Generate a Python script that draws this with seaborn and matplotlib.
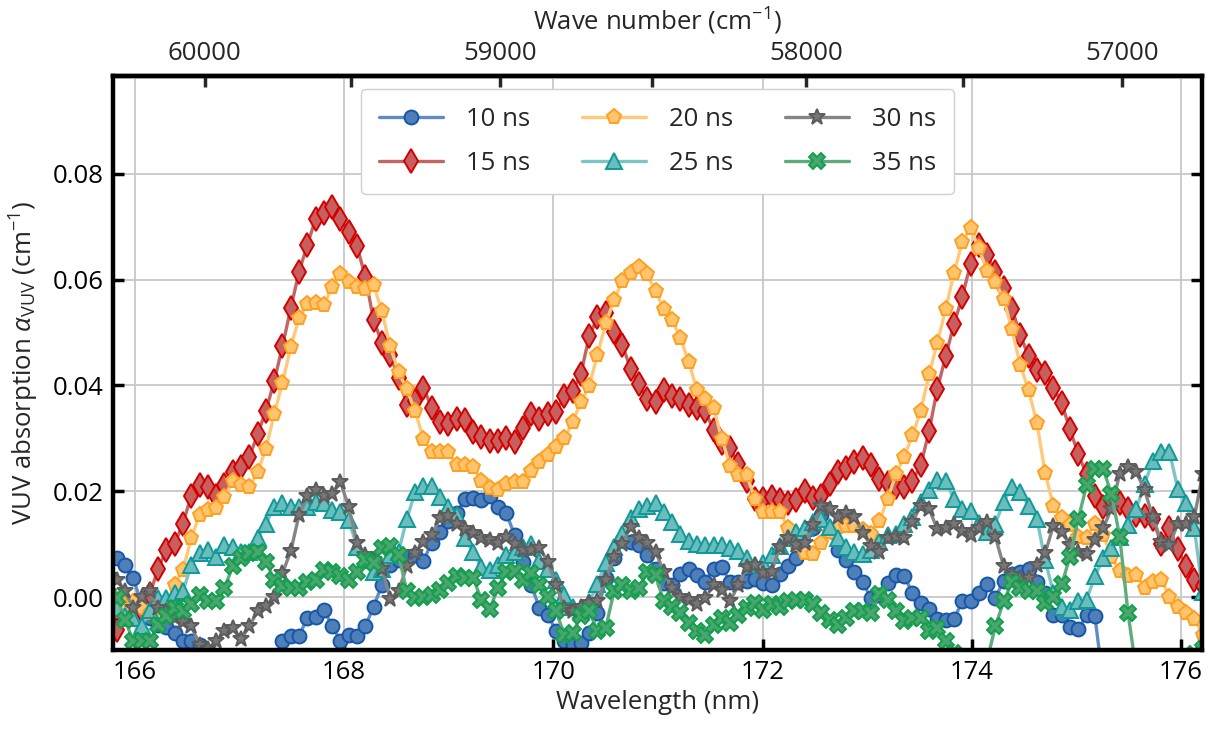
import numpy as np
import matplotlib
matplotlib.use("Agg")
import matplotlib.pyplot as plt
import seaborn as sns
from matplotlib.ticker import MultipleLocator, FuncFormatter, FixedLocator

sns.set_theme(style="white")
plt.rcParams["font.family"] = ["Open Sans", "DejaVu Sans"]
plt.rcParams["mathtext.fontset"] = "custom"
plt.rcParams["mathtext.rm"] = "Open Sans"
plt.rcParams["mathtext.it"] = "Open Sans:italic"
plt.rcParams["mathtext.bf"] = "Open Sans:bold"

# Monochromator sampling grid (nm)
wl_start = 165.746
wl_step = 0.07924
n_points = 133
wavelength = wl_start + wl_step * np.arange(n_points)

delays = ["10 ns", "15 ns", "20 ns", "25 ns", "30 ns", "35 ns"]

# VUV absorption, in units of 1e-3 cm^-1, one value per grid point
absorption_10ns = [
    8.0, 7.3, 6.0, 3.7, -1.5, -4.0, -5.2, -5.7, -6.8, -8.3,
    -8.3, -9.0, -10.5, -13.0, -13.0, -13.0, -13.0, -13.0, -13.0, -13.0,
    -13.0, -8.3, -7.4, -7.4, -3.9, -3.8, -2.4, -5.5, -8.3, -7.1,
    -7.4, -5.5, -1.8, 2.3, 6.1, 7.0, 7.6, 8.0, 6.8, 10.3,
    12.3, 14.3, 15.8, 18.5, 18.7, 18.3, 19.1, 17.0, 15.8, 11.8,
    6.7, 2.3, -2.1, -3.4, -6.4, -8.3, -9.1, -8.6, -6.8, -3.0,
    3.6, 7.3, 10.8, 10.5, 9.8, 7.9, 5.4, 2.6, 2.3, 4.3,
    5.4, 4.2, 2.9, 5.4, 5.6, 2.9, 2.8, 3.1, 3.5, 2.6,
    2.3, 4.3, 5.8, 7.3, 8.7, 13.0, 15.5, 12.5, 8.9, 7.0,
    4.8, 2.8, -0.2, 0.4, 2.6, 4.2, 3.9, 0.8, -1.1, -2.2,
    -4.2, -4.3, -4.2, -0.8, -0.8, 0.8, 2.4, -0.1, 3.1, 4.3,
    4.7, 5.4, 2.8, 0.8, -3.4, -3.3, -5.7, -6.1, -3.4, -3.6,
    -16.0,
]
absorption_15ns = [
    -4.0, -6.2, -3.0, -2.1, -2.7, 0.5, 5.4, 8.9, 10.1, 13.9,
    19.2, 21.2, 20.8, 19.2, 21.1, 23.6, 24.5, 26.4, 30.8, 35.2,
    40.8, 47.4, 54.6, 61.5, 66.6, 71.5, 72.7, 73.7, 71.4, 69.1,
    66.3, 60.5, 52.3, 48.1, 45.8, 41.4, 36.4, 37.1, 39.6, 35.8,
    33.1, 32.7, 33.7, 33.5, 31.2, 30.2, 29.5, 29.5, 30.0, 29.4,
    31.9, 34.7, 33.6, 34.6, 34.9, 38.1, 38.9, 42.2, 49.3, 52.9,
    53.7, 50.2, 47.7, 43.1, 40.2, 37.4, 36.9, 39.1, 38.0, 37.4,
    36.4, 35.8, 35.2, 31.6, 29.2, 28.1, 25.2, 22.0, 18.6, 18.6,
    18.9, 18.4, 17.7, 18.3, 20.0, 18.7, 19.2, 21.4, 23.6, 24.4,
    25.5, 26.2, 24.9, 22.3, 21.5, 20.8, 20.8, 22.0, 24.9, 31.4,
    39.4, 45.5, 51.6, 56.7, 63.0, 66.5, 64.6, 61.5, 58.5, 54.5,
    49.6, 45.5, 43.0, 42.4, 39.6, 36.6, 31.7, 27.0, 23.2, 19.2,
    17.0, 18.3, 17.7, 16.7, 15.6, 15.3, 14.7, 10.1, 13.0, 9.1,
    5.8, 3.3, 2.0,
]
absorption_20ns = [
    0.0, -0.5, -1.5, -1.0, -2.0, -3.0, -4.5, -2.5, 2.3, 5.1,
    11.1, 15.6, 16.4, 16.8, 18.9, 22.0, 21.1, 20.8, 23.6, 28.0,
    34.6, 40.4, 47.3, 52.7, 55.4, 55.6, 55.2, 58.7, 61.0, 59.6,
    58.7, 58.2, 59.0, 54.0, 47.4, 42.6, 39.3, 35.2, 29.9, 27.5,
    27.5, 27.4, 24.9, 24.9, 24.5, 22.0, 20.6, 20.3, 21.4, 21.7,
    21.8, 23.9, 25.6, 26.9, 28.3, 30.0, 33.1, 36.8, 39.9, 45.8,
    51.8, 56.1, 59.8, 61.3, 62.4, 61.0, 57.8, 54.4, 52.3, 49.0,
    44.5, 39.1, 37.5, 35.8, 29.9, 24.8, 23.0, 23.0, 18.6, 16.1,
    16.1, 16.1, 13.0, 10.1, 8.3, 8.1, 10.3, 12.3, 13.3, 13.5,
    13.5, 12.6, 12.0, 14.3, 18.6, 23.2, 26.5, 30.6, 35.2, 42.1,
    48.1, 54.4, 61.2, 67.1, 69.8, 65.9, 61.7, 59.6, 56.3, 50.6,
    43.9, 39.1, 33.0, 23.5, 17.2, 15.0, 13.6, 11.4, 11.2, 13.9,
    11.7, 7.6, 4.9, 3.9, 4.2, 1.7, 2.9, 3.3, 0.1, -1.8,
    -3.0, -4.1, -7.1,
]
absorption_25ns = [
    -2.0, -2.1, -3.5, -3.9, -5.5, -2.5, -0.2, -0.2, 0.8, 1.1,
    6.1, 8.3, 8.9, 7.6, 9.8, 9.5, 8.6, 8.6, 11.1, 13.9,
    17.0, 17.7, 17.0, 17.0, 17.0, 18.0, 17.7, 16.4, 16.1, 14.5,
    9.5, 7.0, 4.8, 5.4, 7.9, 8.5, 14.8, 19.8, 21.0, 21.0,
    18.9, 17.0, 15.5, 11.1, 8.5, 5.6, 5.1, 6.1, 7.9, 8.6,
    9.5, 10.0, 6.8, 5.4, 3.2, 0.4, -1.8, -2.5, -1.0, 2.5,
    6.5, 9.5, 12.0, 15.0, 16.7, 17.3, 17.7, 16.1, 14.2, 12.0,
    10.6, 10.1, 9.8, 9.8, 9.8, 9.3, 8.7, 7.3, 6.1, 6.4,
    7.9, 9.7, 11.1, 12.3, 13.1, 14.2, 14.8, 13.3, 11.1, 9.5,
    8.5, 8.1, 8.9, 10.5, 11.7, 12.0, 13.9, 15.1, 18.0, 20.2,
    22.2, 22.0, 18.5, 16.7, 16.3, 14.0, 12.3, 13.9, 18.0, 20.8,
    19.8, 17.3, 14.8, 7.0, 0.8, -1.8, -2.4, -0.8, -0.5, 3.9,
    7.3, 9.2, 11.4, 13.6, 16.7, 21.4, 25.8, 27.5, 27.5, 20.5,
    17.7, 13.0, 1.0,
]
absorption_30ns = [
    4.0, 3.3, 1.1, -2.1, 0.1, 1.1, -2.1, -2.7, -3.9, -4.8,
    -5.5, -9.0, -9.8, -8.3, -6.4, -5.8, -8.0, -5.5, -2.7, -1.7,
    0.1, 4.5, 8.7, 15.5, 19.2, 20.2, 19.2, 19.5, 21.7, 17.0,
    10.3, 7.9, 7.0, 5.4, -0.3, 1.2, 5.8, 8.3, 10.5, 11.7,
    15.0, 15.3, 13.9, 12.8, 12.2, 11.1, 10.8, 10.3, 11.4, 10.0,
    8.9, 8.9, 9.3, 6.7, 2.3, -2.1, -2.6, -1.8, -1.2, -0.8,
    3.3, 7.6, 10.1, 13.3, 11.1, 10.3, 8.6, 4.8, 1.7, 0.0,
    -0.6, -1.4, -0.2, 2.3, 1.4, -0.8, 2.3, 5.6, 6.1, 4.5,
    4.8, 9.5, 11.1, 9.8, 10.3, 13.6, 17.3, 16.7, 15.1, 15.8,
    15.1, 12.2, 9.7, 8.6, 11.2, 11.4, 11.1, 14.2, 17.3, 16.7,
    12.8, 13.0, 13.9, 12.5, 11.8, 13.0, 14.2, 11.4, 5.8, 4.2,
    3.6, 3.6, 6.1, 8.3, 13.5, 12.3, 9.8, 8.6, 8.1, 10.8,
    13.0, 16.7, 23.3, 24.5, 23.6, 20.2, 15.1, 10.5, 9.8, 13.9,
    13.9, 15.1, 23.3,
]
absorption_35ns = [
    0.5, -0.2, -4.3, -8.3, -8.3, -8.3, -5.2, -3.6, -2.1, -2.7,
    -1.4, 0.4, -0.8, -0.7, 1.7, 5.8, 7.3, 8.3, 8.5, 6.7,
    3.3, 2.0, 1.7, 1.8, 2.9, 3.3, 5.1, 4.8, 3.9, 3.3,
    4.8, 7.0, 6.4, 9.2, 9.6, 8.0, 1.1, -0.1, 0.1, 0.4,
    1.4, 2.6, 3.9, 3.6, 3.6, -0.5, -2.2, 1.7, 4.8, 4.9,
    3.3, 4.5, 2.3, 0.1, -2.7, -7.1, -6.8, -3.6, -2.7, -6.4,
    -5.8, 1.1, 2.3, 1.2, 1.8, 4.8, 4.2, -0.8, -1.8, -3.1,
    -4.9, -6.4, -7.1, -5.2, -3.9, -4.9, -3.3, -2.1, -1.1, -2.4,
    -1.4, -1.9, -0.8, -0.5, -0.5, -1.4, -3.0, -4.3, -5.2, -3.9,
    -2.6, -2.7, -3.0, 0.6, -0.5, -2.7, -4.6, -3.9, -3.9, -6.4,
    -5.8, -8.3, -10.5, -12.0, -14.0, -14.0, -12.0, -5.5, -0.8, 2.8,
    1.8, 1.2, 1.2, -1.1, 0.1, 2.4, 7.6, 14.8, 21.1, 24.2,
    24.2, 19.5, 11.4, -3.0, -14.0, -14.0, -14.0, -14.0, -14.0, -14.0,
    -14.0, -10.8, -9.8,
]
series = [absorption_10ns, absorption_15ns, absorption_20ns,
          absorption_25ns, absorption_30ns, absorption_35ns]

# line colour, marker face, marker edge, marker, marker size
styles = [
    ("#5f8cc2", "#4f7fb8", "#1656a8", "o", 10),
    ("#c26565", "#c75f5f", "#d40000", "d", 12.5),
    ("#ffc97c", "#ffc46e", "#ffa020", "p", 11),
    ("#7fc4c4", "#6cbcbc", "#0e9a9a", "^", 11),
    ("#858585", "#777777", "#5c5c5c", "*", 12),
    ("#5fab7c", "#4ba56e", "#12a04e", "X", 11),
]

fig = plt.figure(figsize=(12.11, 7.29), dpi=100)
ax = fig.add_axes([0.0933, 0.1084, 0.8993, 0.7873])

for label, values, (lc, fc, ec, mk, ms) in zip(delays, series, styles):
    y = np.asarray(values) * 1e-3
    x = wavelength[: len(y)]
    sns.lineplot(
        x=x, y=y, ax=ax, label=label, sort=False, estimator=None,
        errorbar=None, color=lc, linewidth=2.4, marker=mk, markersize=ms,
        markerfacecolor=fc, markeredgecolor=ec, markeredgewidth=1.4,
    )

ax.set_xlim(165.79, 176.2)
ax.set_ylim(-0.01, 0.0985)
ax.set_axisbelow(True)
ax.grid(True, which="major", color="#c8c8c8", linewidth=1.3)

ax.xaxis.set_major_locator(MultipleLocator(2))
ax.xaxis.set_minor_locator(MultipleLocator(1))
ax.yaxis.set_major_locator(MultipleLocator(0.02))
ax.yaxis.set_major_formatter(FuncFormatter(lambda v, _: f"{v:.2f}"))

ax.tick_params(axis="both", which="both", direction="in", width=2.5,
               length=8, labelsize=18.5, colors="black", pad=7)
ax.tick_params(axis="y", right=True, left=True)
ax.tick_params(axis="x", top=False, bottom=True)

for sp in ax.spines.values():
    sp.set_linewidth(3.2)
    sp.set_color("black")

ax.set_xlabel("Wavelength (nm)", fontsize=18.5, labelpad=4)
ax.set_ylabel(r"VUV absorption $\alpha_{\mathrm{VUV}}$ (cm$^{-1}$)",
              fontsize=18.5, labelpad=8)

# Wave-number scale along the top edge
secax = ax.secondary_xaxis("top", functions=(lambda w: 1e7 / w,
                                             lambda k: 1e7 / k))
secax.xaxis.set_major_locator(FixedLocator([57000, 58000, 59000, 60000]))
secax.xaxis.set_minor_locator(FixedLocator([57500, 58500, 59500]))
secax.xaxis.set_major_formatter(FuncFormatter(lambda v, _: f"{v:.0f}"))
secax.tick_params(axis="x", which="both", direction="in", width=2.5,
                  length=8, labelsize=18.5, pad=7)
secax.spines["top"].set_linewidth(3.2)
secax.set_xlabel("Wave number (cm$^{-1}$)", fontsize=18.5, labelpad=8)

leg = ax.legend(loc="upper center", ncol=3, fontsize=18.5, frameon=True,
                fancybox=True, framealpha=1.0, edgecolor="#d0d0d0",
                handlelength=2.5, handletextpad=0.9, columnspacing=2.0,
                borderaxespad=0.5, borderpad=0.7, labelspacing=0.75)

fig.savefig("out.png", dpi=100)
